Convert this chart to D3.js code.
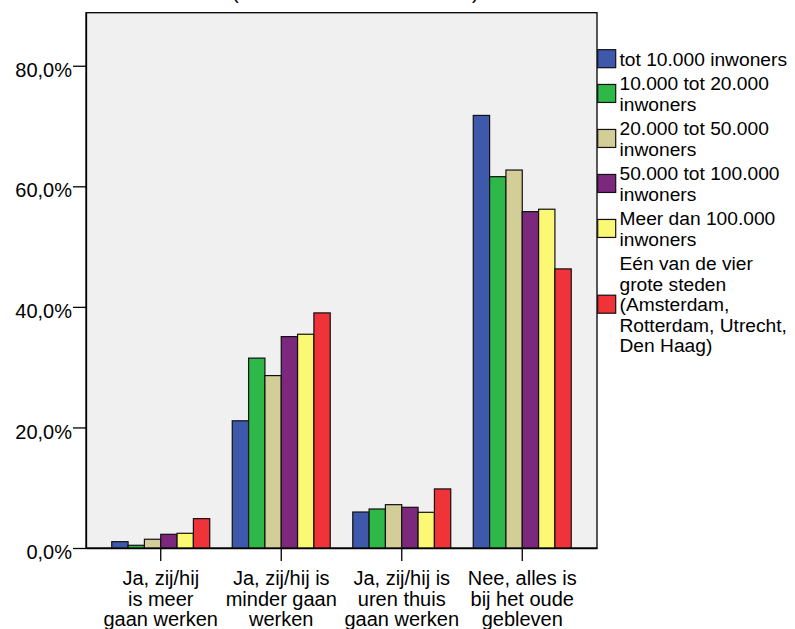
<!DOCTYPE html>
<html>
<head>
<meta charset="utf-8">
<script src="https://cdn.jsdelivr.net/npm/d3@7"></script>
<style>
  html, body { margin: 0; padding: 0; background: #ffffff; }
  svg text { font-family: "Liberation Sans", Arial, sans-serif; fill: #000; }
</style>
</head>
<body>
<svg id="chart" width="795" height="629"></svg>
<script>
// ---- data ----
const categories = [
  ["Ja, zij/hij", "is meer", "gaan werken"],
  ["Ja, zij/hij is", "minder gaan", "werken"],
  ["Ja, zij/hij is", "uren thuis", "gaan werken"],
  ["Nee, alles is", "bij het oude", "gebleven"]
];
const seriesNames = [
  ["tot 10.000 inwoners"],
  ["10.000 tot 20.000", "inwoners"],
  ["20.000 tot 50.000", "inwoners"],
  ["50.000 tot 100.000", "inwoners"],
  ["Meer dan 100.000", "inwoners"],
  ["Eén van de vier", "grote steden", "(Amsterdam,", "Rotterdam, Utrecht,", "Den Haag)"]
];
const seriesColors = ["#3E58AC", "#2EB848", "#D3CE97", "#7C287D", "#FBF873", "#EF3338"];
const valsTot10k   = [1.05, 21.1, 5.97, 71.76];
const vals10k20k   = [0.45, 31.5, 6.47, 61.6];
const vals20k50k   = [1.45, 28.6, 7.19, 62.7];
const vals50k100k  = [2.27, 35.07, 6.75, 55.8];
const valsMeer100k = [2.44, 35.46, 5.92, 56.2];
const valsG4       = [4.87, 39.0, 9.8, 46.3];
const seriesValues = [valsTot10k, vals10k20k, vals20k50k, vals50k100k, valsMeer100k, valsG4];
const yTicks = [0, 20, 40, 60, 80];
const yTickLabels = ["0,0%", "20,0%", "40,0%", "60,0%", "80,0%"];

// ---- layout ----
const svg = d3.select("#chart");
const plot = { left: 86, right: 597, top: 12.7, bottom: 548 };

const catIdx = categories.map((d, i) => i);
const x0 = d3.scaleBand().domain(catIdx).range([plot.left, plot.right])
  .paddingInner(0.187).paddingOuter(0.2137);
const x1 = d3.scaleBand().domain(d3.range(seriesValues.length)).range([0, x0.bandwidth()]).padding(0);
const y = d3.scaleLinear().domain([0, 88.8]).range([plot.bottom, plot.top]);

// title remnant (cut off at top)
svg.append("text").attr("x", 232).attr("y", -1).attr("font-size", 20).text("(");
svg.append("text").attr("x", 472).attr("y", -1).attr("font-size", 20).text(")");

// plot background
svg.append("rect")
  .attr("x", plot.left).attr("y", plot.top)
  .attr("width", plot.right - plot.left).attr("height", plot.bottom - plot.top)
  .attr("fill", "#F0F0F0").attr("stroke", "#000").attr("stroke-width", 1.3);

// bars
const groups = svg.append("g").selectAll("g").data(catIdx).join("g")
  .attr("transform", i => `translate(${x0(i)},0)`);
groups.selectAll("rect")
  .data(ci => seriesValues.map((vals, si) => ({ si, v: vals[ci] })))
  .join("rect")
  .attr("x", d => x1(d.si))
  .attr("y", d => y(d.v))
  .attr("width", x1.bandwidth())
  .attr("height", d => y(0) - y(d.v))
  .attr("fill", d => seriesColors[d.si])
  .attr("stroke", "#111").attr("stroke-width", 1.2);

// y axis
const yAxis = svg.append("g").attr("transform", `translate(${plot.left},0)`)
  .call(d3.axisLeft(y).tickValues(yTicks).tickFormat((d, i) => yTickLabels[i])
    .tickSizeInner(13).tickSizeOuter(0).tickPadding(1));
yAxis.select(".domain").attr("stroke", "#000").attr("stroke-width", 1.3);
yAxis.selectAll(".tick line").attr("stroke", "#000").attr("stroke-width", 1.3);
yAxis.selectAll(".tick text")
  .attr("font-family", "Liberation Sans, Arial, sans-serif")
  .attr("font-size", 20).attr("fill", "#000")
  .attr("dy", "0.53em");

// x axis
const xAxis = svg.append("g").attr("transform", `translate(0,${plot.bottom})`)
  .call(d3.axisBottom(x0).tickSizeInner(13).tickSizeOuter(0).tickFormat(""));
xAxis.select(".domain").attr("stroke", "#000").attr("stroke-width", 1.3);
xAxis.selectAll(".tick line").attr("stroke", "#000").attr("stroke-width", 1.3);
xAxis.selectAll(".tick").each(function (ci) {
  const t = d3.select(this).append("text")
    .attr("text-anchor", "middle")
    .attr("font-family", "Liberation Sans, Arial, sans-serif")
    .attr("font-size", 20).attr("fill", "#000");
  categories[ci].forEach((line, li) => {
    t.append("tspan").attr("x", 0).attr("y", 37 + li * 20.5).text(line);
  });
});

// legend
const legend = svg.append("g");
const lineH = 20.5, gap = 4, fs = 19.2;
let cy = 58.7; // center of first line of first item
seriesNames.forEach((lines, si) => {
  const n = lines.length;
  const center = cy + (n - 1) * lineH / 2;
  legend.append("rect")
    .attr("x", 597.7).attr("y", center - 9)
    .attr("width", 18).attr("height", 18)
    .attr("fill", seriesColors[si]).attr("stroke", "#111").attr("stroke-width", 1.2);
  const t = legend.append("text").attr("font-size", fs);
  lines.forEach((line, li) => {
    t.append("tspan").attr("x", 619.5).attr("y", cy + li * lineH + 7).text(line);
  });
  cy += n * lineH + gap;
});
</script>
</body>
</html>
